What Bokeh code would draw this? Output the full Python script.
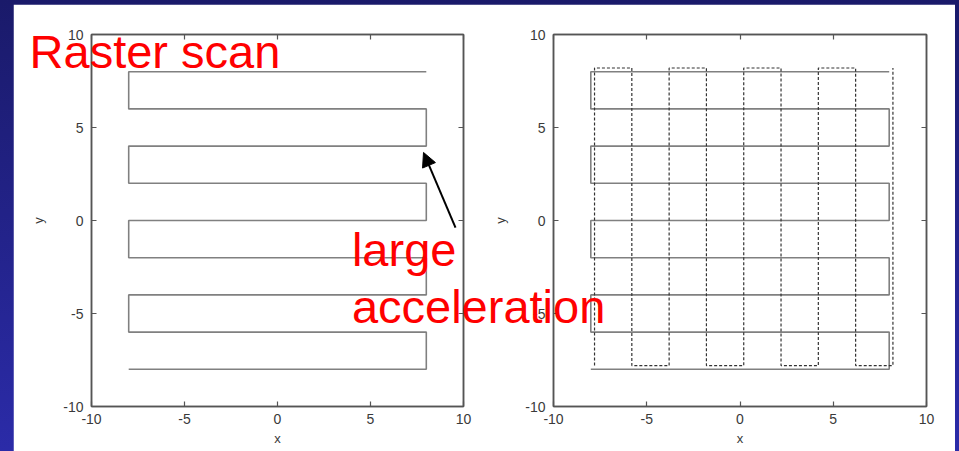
from bokeh.plotting import figure
from bokeh.layouts import row, column
from bokeh.models import (LinearAxis, FixedTicker, Label, Arrow, NormalHead,
                          GlobalInlineStyleSheet, Range1d)
from bokeh.embed import file_html
from bokeh.resources import INLINE

# ---------------- data ----------------
ticks = [-10, -5, 0, 5, 10]
tick_labels = ["-10", "-5", "0", "5", "10"]
# row-by-row raster path (solid)
raster_x = [8, -8, -8, 8, 8, -8, -8, 8, 8, -8, -8, 8, 8, -8, -8, 8, 8, -8]
raster_y = [8, 8, 6, 6, 4, 4, 2, 2, 0, 0, -2, -2, -4, -4, -6, -6, -8, -8]
# column-by-column raster path (dashed), right panel
column_x = [-7.8, -7.8, -5.8, -5.8, -3.8, -3.8, -1.8, -1.8, 0.2, 0.2,
            2.2, 2.2, 4.2, 4.2, 6.2, 6.2, 8.2, 8.2]
column_y = [-7.8, 8.2, 8.2, -7.8, -7.8, 8.2, 8.2, -7.8, -7.8, 8.2,
            8.2, -7.8, -7.8, 8.2, 8.2, -7.8, -7.8, 8.2]

title_text = "Raster scan"
note_lines = ["large", "acceleration"]

FONT = "Liberation Sans"
AX = "#555555"
W, H = 942, 447          # white sheet (page x 13..955, y 4..451)
BT = 30                  # top border of both panels
FR = 372                 # frame size (px)
BB = H - BT - FR
L1 = 78                  # left border of left panel
W2 = 615                 # right panel canvas width
L2 = 213                 # left border of right panel


def style(p):
    p.grid.visible = False
    p.outline_line_color = AX
    p.outline_line_width = 1.5
    for ax in p.xaxis + p.yaxis:
        ax.ticker = FixedTicker(ticks=ticks)
        ax.major_label_overrides = dict(zip(ticks, tick_labels))
        ax.major_tick_in = 5
        ax.major_tick_out = 0
        ax.minor_tick_line_color = None
        ax.axis_line_color = AX
        ax.axis_line_width = 1.5
        ax.major_tick_line_color = AX
        ax.major_tick_line_width = 1.2
        ax.major_label_text_font = FONT
        ax.major_label_text_font_size = "14px"
        ax.major_label_text_color = "#3a3a3a"
        ax.axis_label_text_font = FONT
        ax.axis_label_text_font_size = "13px"
        ax.axis_label_text_font_style = "normal"
        ax.axis_label_text_color = "#3a3a3a"
    p.xaxis.axis_label = "x"
    p.yaxis.axis_label = "y"
    p.xaxis.major_label_standoff = 7
    p.xaxis.axis_label_standoff = 4
    p.yaxis.major_label_standoff = 8
    p.yaxis.axis_label_standoff = 14
    for side in ("above", "right"):
        a = LinearAxis(ticker=FixedTicker(ticks=ticks), major_tick_in=5,
                       major_tick_out=0, minor_tick_line_color=None,
                       major_label_text_color=None,
                       major_label_standoff=0,
                       axis_line_color=AX, axis_line_width=1.5,
                       major_tick_line_color=AX, major_tick_line_width=1.2)
        p.add_layout(a, side)


# ---------------- left panel (full white sheet) ----------------
p1 = figure(width=W, height=H, x_range=(-10, 10), y_range=(-10, 10),
            output_backend="svg", toolbar_location=None,
            min_border_left=L1, min_border_right=W - L1 - FR,
            min_border_top=BT, min_border_bottom=BB,
            background_fill_color="white", border_fill_color="white")
style(p1)
p1.line(raster_x, raster_y, line_color="#808080", line_width=1.6)

# ---------------- right panel (transparent, overlapping) ----------------
p2 = figure(width=W2, height=H, x_range=(-10, 10), y_range=(-10, 10),
            output_backend="svg", toolbar_location=None,
            min_border_left=L2, min_border_right=W2 - L2 - FR - 1,
            min_border_top=BT, min_border_bottom=BB,
            background_fill_color=None, border_fill_color=None)
style(p2)
p2.line(raster_x, raster_y, line_color="#808080", line_width=1.6)
p2.line(column_x, column_y, line_color="#333333", line_width=1.2,
        line_dash="3 2")
p2.margin = (0, 0, 0, -W2)

# ---------------- overlay with the red notes (left-panel data coords) ----
# its frame is the whole sheet; placed in its own layout row over the plots
sx = 20.0 / FR
x0 = -10 - L1 * sx
y1 = 10 + BT * sx
p3 = figure(width=W, height=H,
            x_range=Range1d(x0, x0 + W * sx), y_range=Range1d(y1 - H * sx, y1),
            output_backend="svg", toolbar_location=None,
            min_border_left=0, min_border_right=0,
            min_border_top=0, min_border_bottom=0,
            x_axis_type=None, y_axis_type=None,
            background_fill_color=None, border_fill_color=None)
p3.grid.visible = False
p3.outline_line_color = None
p3.title.visible = False
p3.margin = (-H, 0, 0, 0)

p3.add_layout(Label(x=-13.33, y=9.11, text=title_text, text_font=FONT,
                    text_font_size="47px", text_color="#ff0000",
                    text_baseline="alphabetic", text_align="left"))
for txt, yy in zip(note_lines, [-1.58, -4.60]):
    p3.add_layout(Label(x=4.0, y=yy, text=txt, text_font=FONT,
                        text_font_size="47px", text_color="#ff0000",
                        text_baseline="alphabetic", text_align="left"))
p3.add_layout(Arrow(end=NormalHead(size=14, fill_color="black",
                                   line_color="black"),
                    x_start=9.57, y_start=-0.38, x_end=7.85, y_end=3.66,
                    line_color="black", line_width=2))

layout = column(row(p1, p2), p3)
layout.margin = (4, 0, 0, 13)
layout.stylesheets = [GlobalInlineStyleSheet(
    css="body { background: linear-gradient(to bottom, #1a1a6a 0%, #2b2ba8 100%); }")]

open("out.html", "w").write(file_html(layout, INLINE))
